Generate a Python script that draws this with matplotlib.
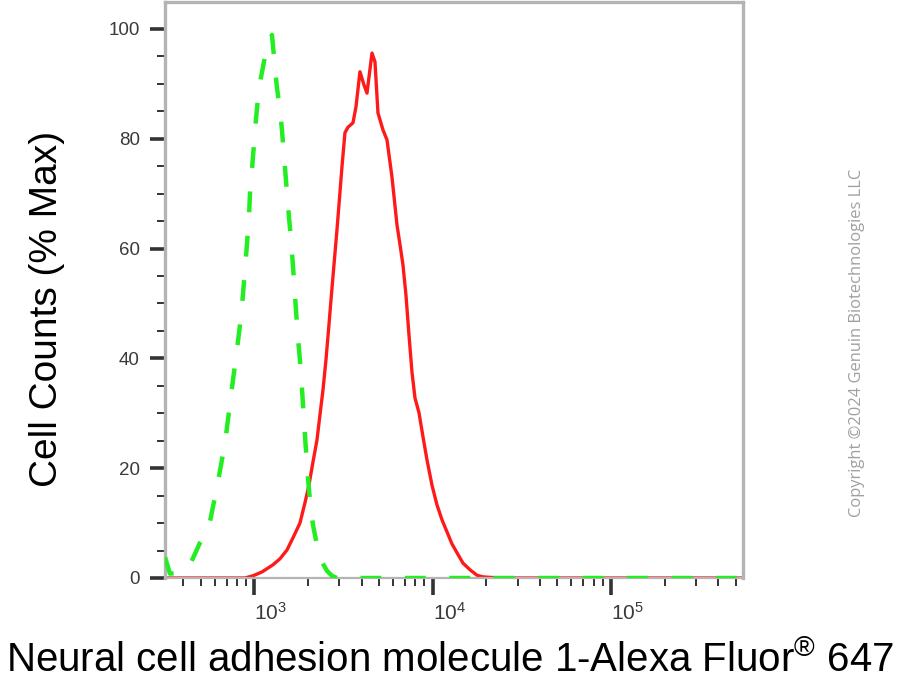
import numpy as np
import matplotlib
matplotlib.use("Agg")
import matplotlib.pyplot as plt
from matplotlib.ticker import LogLocator, MultipleLocator, NullFormatter

plt.rcParams['font.family'] = ['Liberation Sans', 'DejaVu Sans']
plt.rcParams['mathtext.default'] = 'regular'
plt.rcParams['lines.scale_dashes'] = False

# isotype control (green dashed)
green_x = [316, 337, 383, 436, 496, 529, 564, 594, 626, 659, 694, 721, 750, 780,
           810, 842, 864, 887, 910, 934, 946, 971, 996, 1022, 1049, 1090, 1148,
           1193, 1257, 1273, 1306, 1341, 1394, 1430, 1468, 1506, 1545, 1586, 1627,
           1670, 1714, 1759, 1804, 1851, 1900, 1950, 2001, 2053, 2134, 2247, 2398,
           2557, 2728, 2910, 10000, 100000, 550000]
green_y = [3.8, 0.8, 0.9, 2.4, 6.4, 7.8, 10.2, 13.8, 17.5, 21.5, 25.9, 30.2, 34.6,
           38.8, 43.0, 47.4, 51.5, 56.1, 60.7, 65.6, 69.8, 74.3, 78.9, 83.4, 87.4,
           91.1, 94.9, 97.1, 98.9, 97.1, 92.9, 89.3, 85.2, 81.6, 77.0, 72.5, 67.9,
           63.8, 59.4, 54.3, 48.8, 43.7, 39.7, 34.6, 28.8, 23.3, 18.2, 14.2, 9.7,
           6.0, 2.9, 1.3, 0.4, 0.0, 0.0, 0.0, 0.0]

# NCAM1 stained (red solid)
red_x = [316, 887, 983, 1105, 1273, 1394, 1526, 1648, 1804, 1925, 2026, 2134, 2247,
         2336, 2428, 2524, 2624, 2693, 2799, 2910, 2985, 3104, 3226, 3354, 3578,
         3719, 3915, 4124, 4287, 4573, 4753, 4940, 5270, 5550, 5920, 6315, 6566,
         6823, 7092, 7371, 7663, 7965, 8389, 8836, 9303, 9922, 10585, 11290, 12042,
         12846, 13703, 14807, 16206, 17742, 19166, 23880, 550000]
red_y = [0.0, 0.0, 0.4, 1.1, 2.4, 3.5, 5.1, 7.3, 10.0, 13.7, 16.9, 21.1, 25.1, 29.7,
         34.2, 39.7, 46.1, 50.6, 57.0, 63.4, 67.9, 74.9, 81.1, 82.1, 82.9, 85.8,
         92.2, 89.8, 88.3, 95.6, 94.0, 84.7, 81.6, 79.8, 73.0, 64.3, 60.7, 57.0,
         51.5, 44.3, 37.5, 32.8, 30.1, 25.7, 21.5, 16.9, 13.3, 10.6, 8.4, 6.2, 4.6,
         2.7, 1.5, 0.5, 0.2, 0.0, 0.0]

fig = plt.figure(figsize=(9.04, 6.90), dpi=100)
ax = fig.add_axes([165 / 904, 1 - 578 / 690, 578 / 904, 576 / 690])

ax.plot(red_x, red_y, color="#ff1a1a", lw=2.4, zorder=2)
ax.plot(green_x, green_y, color="#22ee22", lw=3.2, dashes=(15, 17), zorder=3)

ax.set_xscale("log")
ax.set_xlim(316, 550000)
ax.set_ylim(0, 104.9)

ax.xaxis.set_minor_locator(LogLocator(base=10, subs=np.arange(2, 10), numticks=20))
ax.xaxis.set_minor_formatter(NullFormatter())
ax.set_xticks([1e3, 1e4, 1e5])
ax.set_xticklabels(["$10^{3}$", "$10^{4}$", "$10^{5}$"])
for lab in ax.get_xticklabels():
    lab.set_horizontalalignment("left")

ax.yaxis.set_major_locator(MultipleLocator(20))
ax.yaxis.set_minor_locator(MultipleLocator(5))

ax.tick_params(axis="both", which="major", direction="out", color="#333333",
               width=2.6, labelcolor="#3a3a3a")
ax.tick_params(axis="both", which="minor", direction="out", color="#333333", width=1.4)
ax.tick_params(axis="y", which="major", length=11, pad=7, labelsize=13.5)
ax.tick_params(axis="y", which="minor", length=5.5)
ax.tick_params(axis="x", which="major", length=12, pad=5, labelsize=15)
ax.tick_params(axis="x", which="minor", length=6)

for side in ["top", "right", "left"]:
    ax.spines[side].set_color("#b4b4b4")
    ax.spines[side].set_linewidth(2.4)
ax.spines["bottom"].set_color("#b4b4b4")
ax.spines["bottom"].set_linewidth(1.6)

fig.text(47 / 904, 1 - 309 / 690, "Cell Counts (% Max)", rotation=90,
         ha="center", va="center", fontsize=28, color="black")
fig.text(450 / 904, 1 - 660 / 690, "Neural cell adhesion molecule 1-Alexa Fluor$^{®}$ 647",
         ha="center", va="center", fontsize=29, color="black")
fig.text(857 / 904, 1 - 343 / 690, "Copyright \u00a92024 Genuin Biotechnologies LLC",
         rotation=90, ha="center", va="center", fontsize=11.9, color="#a0a0a0",
         family="Open Sans")

fig.savefig("out.png", dpi=100)
